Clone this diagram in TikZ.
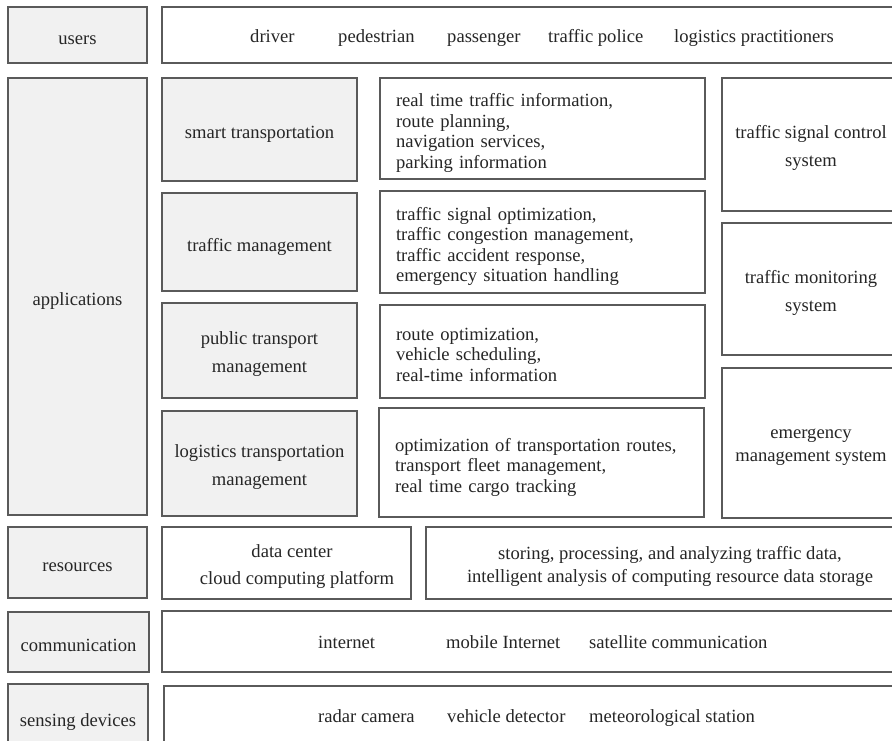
\documentclass[tikz,border=0pt]{standalone}
\usepackage{fontspec}
\setmainfont{Liberation Serif}
\definecolor{boxline}{HTML}{5A5A5A}
\definecolor{labfill}{HTML}{F1F1F1}
\definecolor{txt}{HTML}{262626}
\tikzset{
  boxbase/.style={draw=boxline, line width=1.3pt, rectangle, inner sep=0pt},
  lab/.style={boxbase, fill=labfill},
  wbox/.style={boxbase, fill=white},
  tx/.style={text=txt, inner sep=0pt, align=center,
    font=\fontsize{18.6}{28}\selectfont,
    execute at begin node={\rule[-4.5pt]{0pt}{19pt}},
    execute at end node={\rule[-4.5pt]{0pt}{0pt}}},
  dtx/.style={tx, align=left, text width=293pt, font=\fontsize{18.6}{20.5}\selectfont},
  item/.style={anchor=base west, inner sep=0pt, text=txt, font=\fontsize{18.6}{22}\selectfont},
}
\newcommand\boxtext[3][]{\node[tx,#1] at ([yshift=-4pt]#2.center) {#3};}
\begin{document}
\begin{tikzpicture}[x=1pt,y=-1pt]
\useasboundingbox (0,0) rectangle (892,740);
\clip (0,0) rectangle (892,740);
\fill[white] (0,0) rectangle (892,740);
% left labels
\node[lab, minimum width=139pt, minimum height=56pt] (users) at (77.5,35) {};
\node[lab, minimum width=139pt, minimum height=437pt] (apps) at (77.5,296.5) {};
\node[lab, minimum width=139pt, minimum height=71pt] (res) at (77.5,562.5) {};
\node[lab, minimum width=141pt, minimum height=60pt] (comm) at (78.5,642) {};
\node[lab, minimum width=140pt, minimum height=66pt] (sens) at (78,717) {};
\boxtext{users}{users}
\boxtext{apps}{applications}
\boxtext{res}{resources}
\boxtext{comm}{communication}
\boxtext{sens}{sensing devices}
% users row
\node[wbox, minimum width=738pt, minimum height=56pt] (urow) at (531,35) {};
\node[item] (u1) at (250,42) {driver};
\node[item] (u2) at (338,42) {pedestrian};
\node[item] (u3) at (447,42) {passenger};
\node[item] (u4) at (548,42) {traffic police};
\node[item] (u5) at (674,42) {logistics practitioners};
% applications
\node[lab, minimum width=195pt, minimum height=103pt] (smart) at (259.5,129.5) {};
\node[lab, minimum width=195pt, minimum height=98pt] (tmgmt) at (259.5,242) {};
\node[lab, minimum width=195pt, minimum height=95pt] (pub) at (259.5,350.5) {};
\node[lab, minimum width=195pt, minimum height=105pt] (logi) at (259.5,463.5) {};
\boxtext{smart}{smart transportation}
\boxtext{tmgmt}{traffic management}
\boxtext{pub}{public transport\\management}
\boxtext{logi}{logistics transportation\\management}
\node[wbox, minimum width=325pt, minimum height=101pt] (d1) at (542.5,128.5) {};
\node[wbox, minimum width=325pt, minimum height=102pt] (d2) at (542.5,242) {};
\node[wbox, minimum width=325pt, minimum height=93pt] (d3) at (542.5,351.5) {};
\node[wbox, minimum width=325pt, minimum height=109pt] (d4) at (541.5,462.5) {};
\boxtext[dtx]{d1}{real time traffic information,\\route planning,\\navigation services,\\parking information}
\boxtext[dtx]{d2}{traffic signal optimization,\\traffic congestion management,\\traffic accident response,\\emergency situation handling}
\boxtext[dtx]{d3}{route optimization,\\vehicle scheduling,\\real-time information}
\boxtext[dtx]{d4}{optimization of transportation routes,\\transport fleet management,\\real time cargo tracking}
\node[wbox, minimum width=178pt, minimum height=133pt] (r1) at (811,144.5) {};
\node[wbox, minimum width=178pt, minimum height=132pt] (r2) at (811,289) {};
\node[wbox, minimum width=178pt, minimum height=150pt] (r3) at (811,443) {};
\boxtext{r1}{traffic signal control\\system}
\boxtext{r2}{traffic monitoring\\system}
\boxtext[font=\fontsize{18.6}{23}\selectfont]{r3}{emergency\\management system}
% resources
\node[wbox, minimum width=249pt, minimum height=72pt] (dc) at (286.5,563) {};
\node[wbox, minimum width=474pt, minimum height=72pt] (stor) at (663,563) {};
\boxtext[font=\fontsize{18.6}{27}\selectfont]{dc}{\hspace*{11pt}data center\\\hspace*{21pt}cloud computing platform}
\boxtext[font=\fontsize{18.6}{23}\selectfont]{stor}{\hspace*{14pt}storing, processing, and analyzing traffic data,\\\hspace*{14pt}intelligent analysis of computing resource data storage}
% communication
\node[wbox, minimum width=738pt, minimum height=61pt] (crow) at (531,641.5) {};
\node[item] (c1) at (318,648) {internet};
\node[item] (c2) at (446,648) {mobile Internet};
\node[item] (c3) at (589,648) {satellite communication};
% sensing
\node[wbox, minimum width=736pt, minimum height=64pt] (srow) at (532,718) {};
\node[item] (s1) at (318,722) {radar camera};
\node[item] (s2) at (447,722) {vehicle detector};
\node[item] (s3) at (589,722) {meteorological station};
\end{tikzpicture}
\end{document}
